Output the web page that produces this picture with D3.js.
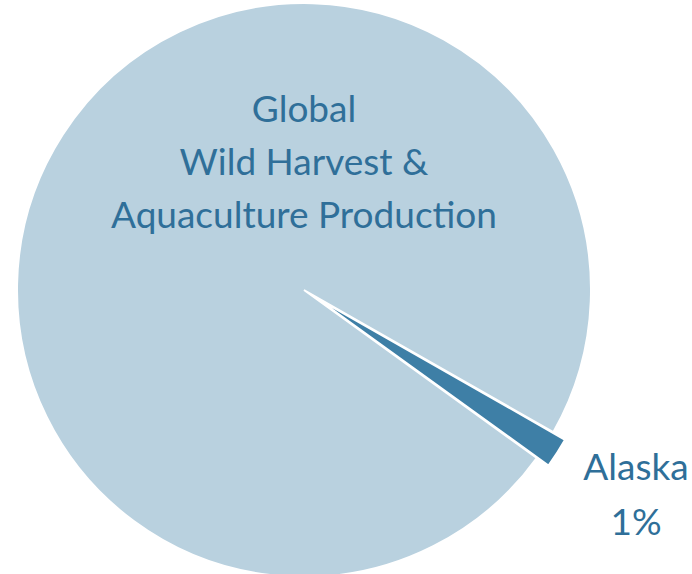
<!DOCTYPE html>
<html>
<head>
<meta charset="utf-8">
<script src="https://cdn.jsdelivr.net/npm/d3@7"></script>
<style>
  body { margin: 0; background: #fff; }
  text { font-family: Lato, "Open Sans", sans-serif; }
</style>
</head>
<body>
<svg id="chart"></svg>
<script>
const width = 692
const height = 574

// data (the wedge is drawn a bit wider than 1%)
var categories = ["Alaska", "Global"]
var shares = [1.7, 98.3]
var labelLines = [["Alaska", "1%"], ["Global", "Wild Harvest &", "Aquaculture Production"]]
var colors = ["#3e7fa6", "#b9d1df"]

var svg = d3.select("#chart")
    .attr("width", width)
    .attr("height", height)

var cx = 304, cy = 290
var radius = 287
var explode = 14

// Alaska wedge starts just below the 4 o'clock direction
var start = 119.7 * Math.PI / 180
var pie = d3.pie()
    .sort(null)
    .value(function(d) { return d })
    .startAngle(start)
    .endAngle(start + 2 * Math.PI)

var arcs = pie(shares)
var arc = d3.arc().innerRadius(0).outerRadius(radius)

var g = svg.append("g")
    .attr("transform", "translate(" + cx + "," + cy + ")")

// big slice first, Alaska on top
g.selectAll("path")
    .data([arcs[1], arcs[0]])
    .enter()
    .append("path")
    .attr("d", arc)
    .attr("fill", function(d) { return colors[d.index] })
    .attr("stroke", "#fff")
    .attr("stroke-width", 2)
    .attr("stroke-linejoin", "miter")
    .attr("transform", function(d) {
        if (d.index != 0) return null
        var a = (d.startAngle + d.endAngle) / 2
        return "translate(" + (Math.sin(a) * explode) + "," + (-Math.cos(a) * explode) + ")"
    })

// Global label, centred on the pie
var textColor = "#2f6f99"
var globalLabel = svg.append("text")
    .attr("text-anchor", "middle")
    .style("font-size", "37px")
    .style("fill", textColor)
globalLabel.selectAll("tspan")
    .data(labelLines[1])
    .enter()
    .append("tspan")
    .attr("x", cx)
    .attr("y", function(d, i) { return 122 + i * 53 })
    .text(function(d) { return d })

// Alaska label, outside the wedge
var alaskaLabel = svg.append("text")
    .attr("text-anchor", "middle")
    .style("font-size", "37px")
    .style("fill", textColor)
alaskaLabel.selectAll("tspan")
    .data(labelLines[0])
    .enter()
    .append("tspan")
    .attr("x", 636)
    .attr("y", function(d, i) { return 480 + i * 55 })
    .text(function(d) { return d })
</script>
</body>
</html>
